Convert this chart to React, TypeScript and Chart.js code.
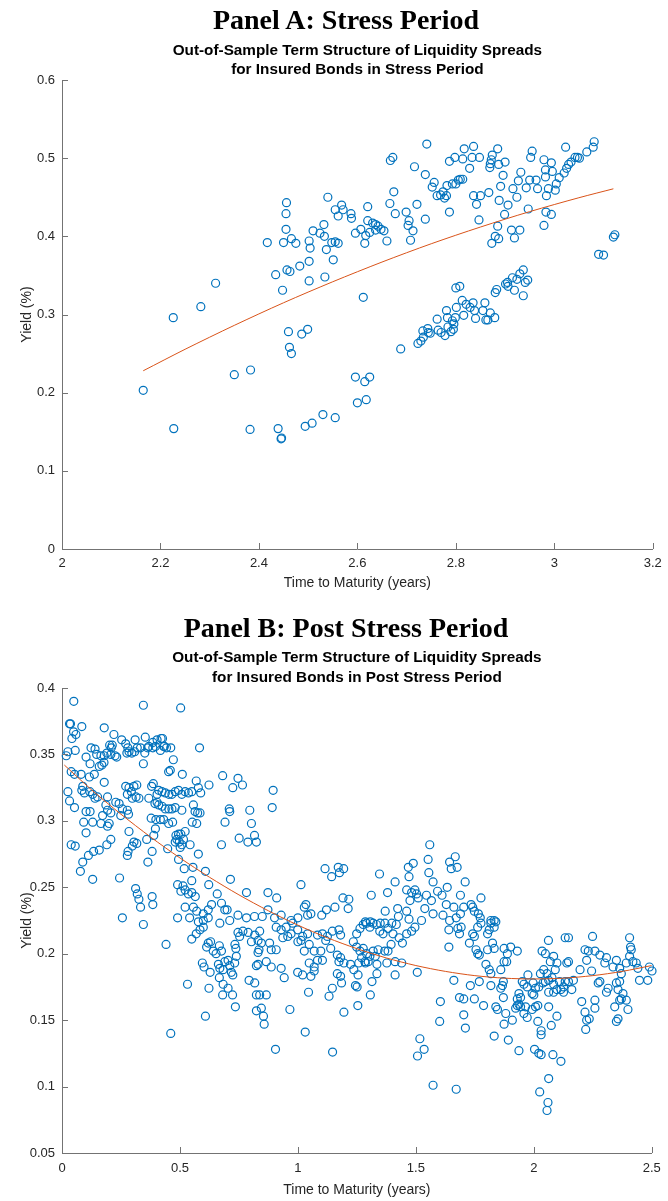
import { useEffect, useRef } from 'react';
import { Chart, registerables } from 'chart.js';

Chart.register(...registerables);

const SANS = '"Liberation Sans", Arial, Helvetica, sans-serif';
const SERIF = '"Liberation Serif", "Times New Roman", Times, serif';
const MARKER_BLUE = '#0072BD';
const FIT_ORANGE = '#D95319';
const AXIS_GRAY = '#737373';
const TEXT_DARK = '#262626';

// ---------- Panel A: stress period ----------
const stressXTicks = [2, 2.2, 2.4, 2.6, 2.8, 3, 3.2];
const stressXTickLabels = ['2', '2.2', '2.4', '2.6', '2.8', '3', '3.2'];
const stressYTicks = [0, 0.1, 0.2, 0.3, 0.4, 0.5, 0.6];
const stressYTickLabels = ['0', '0.1', '0.2', '0.3', '0.4', '0.5', '0.6'];

// [time to maturity (years), yield (%)]
const stressPoints: [number, number][] = [
  [2.165, 0.203], [2.226, 0.296], [2.227, 0.154], [2.282, 0.31], [2.312, 0.34],
  [2.35, 0.223], [2.383, 0.229], [2.382, 0.153], [2.417, 0.392], [2.434, 0.351],
  [2.439, 0.154], [2.445, 0.141], [2.446, 0.142], [2.448, 0.331], [2.45, 0.392],
  [2.455, 0.409], [2.455, 0.429], [2.456, 0.443], [2.457, 0.357], [2.463, 0.355],
  [2.46, 0.278], [2.462, 0.258], [2.466, 0.25], [2.466, 0.397], [2.475, 0.391],
  [2.483, 0.362], [2.487, 0.275], [2.499, 0.281], [2.494, 0.157], [2.508, 0.161],
  [2.502, 0.394], [2.504, 0.385], [2.502, 0.368], [2.502, 0.343], [2.51, 0.407],
  [2.524, 0.404], [2.532, 0.415], [2.533, 0.4], [2.537, 0.383], [2.534, 0.348],
  [2.53, 0.172], [2.54, 0.45], [2.548, 0.392], [2.555, 0.393], [2.561, 0.391],
  [2.551, 0.37], [2.555, 0.168], [2.555, 0.434], [2.561, 0.426], [2.568, 0.44],
  [2.571, 0.434], [2.587, 0.429], [2.588, 0.423], [2.596, 0.404], [2.596, 0.22],
  [2.6, 0.187], [2.607, 0.409], [2.615, 0.391], [2.617, 0.401], [2.621, 0.438],
  [2.621, 0.42], [2.625, 0.405], [2.631, 0.417], [2.637, 0.415], [2.642, 0.413],
  [2.637, 0.408], [2.648, 0.409], [2.654, 0.407], [2.66, 0.394], [2.667, 0.497],
  [2.672, 0.501], [2.674, 0.457], [2.666, 0.442], [2.677, 0.429], [2.699, 0.431],
  [2.703, 0.414], [2.705, 0.42], [2.713, 0.407], [2.708, 0.395], [2.716, 0.489],
  [2.721, 0.441], [2.738, 0.479], [2.738, 0.422], [2.741, 0.518], [2.752, 0.463],
  [2.756, 0.469], [2.762, 0.452], [2.769, 0.453], [2.774, 0.457], [2.777, 0.449],
  [2.781, 0.452], [2.782, 0.465], [2.787, 0.431], [2.787, 0.496], [2.793, 0.467],
  [2.798, 0.501], [2.8, 0.467], [2.805, 0.472], [2.809, 0.473], [2.814, 0.473],
  [2.814, 0.499], [2.817, 0.512], [2.828, 0.487], [2.833, 0.501], [2.836, 0.515],
  [2.836, 0.452], [2.842, 0.441], [2.848, 0.501], [2.85, 0.452], [2.847, 0.421],
  [2.867, 0.456], [2.869, 0.488], [2.87, 0.493], [2.872, 0.498], [2.874, 0.504],
  [2.885, 0.512], [2.887, 0.492], [2.9, 0.495], [2.896, 0.478], [2.891, 0.464],
  [2.888, 0.446], [2.906, 0.44], [2.899, 0.428], [2.885, 0.413], [2.88, 0.4],
  [2.873, 0.391], [2.887, 0.397], [2.916, 0.461], [2.924, 0.45], [2.927, 0.471],
  [2.932, 0.482], [2.913, 0.408], [2.919, 0.398], [2.93, 0.408], [2.943, 0.462],
  [2.95, 0.472], [2.947, 0.435], [2.952, 0.501], [2.955, 0.509], [2.963, 0.472],
  [2.966, 0.461], [2.979, 0.498], [2.982, 0.485], [2.982, 0.476], [2.984, 0.452],
  [2.988, 0.461], [2.983, 0.431], [2.994, 0.428], [2.979, 0.414], [2.994, 0.494],
  [2.996, 0.483], [3.002, 0.459], [3.004, 0.467], [3.01, 0.475], [3.02, 0.481],
  [3.025, 0.487], [3.029, 0.492], [3.034, 0.495], [3.042, 0.501], [3.047, 0.501],
  [3.051, 0.5], [3.023, 0.514], [3.066, 0.508], [3.079, 0.514], [3.081, 0.521],
  [3.12, 0.399], [3.123, 0.402], [3.09, 0.377], [3.1, 0.376], [2.612, 0.322],
  [2.615, 0.214], [2.625, 0.22], [2.618, 0.191], [2.688, 0.256], [2.723, 0.263],
  [2.729, 0.266], [2.734, 0.271], [2.733, 0.279], [2.743, 0.282], [2.748, 0.276],
  [2.744, 0.277], [2.762, 0.294], [2.764, 0.28], [2.77, 0.277], [2.778, 0.273],
  [2.781, 0.305], [2.783, 0.296], [2.784, 0.284], [2.79, 0.278], [2.793, 0.292],
  [2.796, 0.288], [2.795, 0.281], [2.799, 0.296], [2.801, 0.309], [2.8, 0.334],
  [2.808, 0.336], [2.813, 0.318], [2.816, 0.299], [2.821, 0.313], [2.829, 0.309],
  [2.835, 0.315], [2.838, 0.305], [2.84, 0.295], [2.855, 0.305], [2.859, 0.315],
  [2.861, 0.293], [2.865, 0.293], [2.87, 0.302], [2.879, 0.296], [2.88, 0.328],
  [2.883, 0.332], [2.901, 0.339], [2.906, 0.336], [2.905, 0.341], [2.915, 0.347],
  [2.919, 0.331], [2.924, 0.345], [2.93, 0.352], [2.937, 0.357], [2.941, 0.341],
  [2.946, 0.344], [2.937, 0.324],
];

// fitted term structure, stress period
const stressFit: [number, number][] = [
  [2.165, 0.228], [2.25, 0.2555], [2.35, 0.2861], [2.45, 0.315], [2.55, 0.3419],
  [2.65, 0.3671], [2.75, 0.3905], [2.85, 0.4119], [2.95, 0.4316], [3.05, 0.4494],
  [3.12, 0.4608],
];

// ---------- Panel B: post stress period ----------
const postXTicks = [0, 0.5, 1, 1.5, 2, 2.5];
const postXTickLabels = ['0', '0.5', '1', '1.5', '2', '2.5'];
const postYTicks = [0.05, 0.1, 0.15, 0.2, 0.25, 0.3, 0.35, 0.4];
const postYTickLabels = ['0.05', '0.1', '0.15', '0.2', '0.25', '0.3', '0.35', '0.4'];

// [time to maturity (years), yield (%)]
const postPoints: [number, number][] = [
  [0.05, 0.39], [0.345, 0.387], [0.503, 0.385], [0.032, 0.373], [0.036, 0.373],
  [0.084, 0.371], [0.049, 0.367], [0.059, 0.365], [0.179, 0.37], [0.042, 0.362],
  [0.22, 0.365], [0.253, 0.361], [0.31, 0.361], [0.353, 0.363], [0.385, 0.359],
  [0.403, 0.361], [0.42, 0.362], [0.426, 0.362], [0.27, 0.358], [0.279, 0.355],
  [0.202, 0.357], [0.213, 0.357], [0.209, 0.355], [0.319, 0.355], [0.333, 0.355],
  [0.368, 0.356], [0.385, 0.355], [0.396, 0.356], [0.434, 0.356], [0.461, 0.355],
  [0.583, 0.355], [0.025, 0.352], [0.018, 0.349], [0.056, 0.353], [0.123, 0.355],
  [0.14, 0.354], [0.102, 0.348], [0.147, 0.35], [0.165, 0.349], [0.179, 0.349],
  [0.19, 0.351], [0.207, 0.35], [0.225, 0.349], [0.232, 0.348], [0.275, 0.351],
  [0.284, 0.352], [0.296, 0.351], [0.308, 0.352], [0.351, 0.351], [0.363, 0.355],
  [0.417, 0.353], [0.431, 0.356], [0.443, 0.355], [0.472, 0.346], [0.119, 0.343],
  [0.169, 0.342], [0.178, 0.344], [0.158, 0.341], [0.345, 0.343], [0.039, 0.337],
  [0.053, 0.335], [0.081, 0.335], [0.116, 0.333], [0.137, 0.335], [0.452, 0.337],
  [0.459, 0.338], [0.51, 0.335], [0.681, 0.334], [0.746, 0.332], [0.765, 0.327],
  [0.724, 0.325], [0.179, 0.329], [0.025, 0.322], [0.088, 0.326], [0.084, 0.323],
  [0.095, 0.321], [0.118, 0.322], [0.13, 0.32], [0.14, 0.317], [0.151, 0.318],
  [0.193, 0.318], [0.27, 0.326], [0.284, 0.325], [0.294, 0.322], [0.305, 0.326],
  [0.317, 0.327], [0.277, 0.32], [0.298, 0.317], [0.314, 0.318], [0.326, 0.317],
  [0.368, 0.317], [0.38, 0.326], [0.387, 0.328], [0.41, 0.323], [0.424, 0.322],
  [0.438, 0.321], [0.453, 0.32], [0.466, 0.32], [0.48, 0.322], [0.494, 0.323],
  [0.508, 0.32], [0.522, 0.322], [0.536, 0.321], [0.55, 0.322], [0.403, 0.32],
  [0.569, 0.33], [0.578, 0.325], [0.588, 0.321], [0.623, 0.327], [0.032, 0.315],
  [0.053, 0.31], [0.102, 0.307], [0.119, 0.307], [0.193, 0.308], [0.207, 0.306],
  [0.186, 0.312], [0.228, 0.314], [0.242, 0.313], [0.256, 0.309], [0.277, 0.308],
  [0.249, 0.304], [0.172, 0.304], [0.282, 0.305], [0.394, 0.313], [0.403, 0.314],
  [0.41, 0.312], [0.424, 0.311], [0.438, 0.309], [0.453, 0.309], [0.466, 0.309],
  [0.48, 0.31], [0.378, 0.302], [0.398, 0.301], [0.417, 0.301], [0.431, 0.301],
  [0.452, 0.298], [0.469, 0.299], [0.508, 0.308], [0.557, 0.312], [0.564, 0.307],
  [0.575, 0.306], [0.585, 0.306], [0.552, 0.299], [0.571, 0.298], [0.092, 0.299],
  [0.13, 0.299], [0.165, 0.298], [0.193, 0.296], [0.2, 0.298], [0.102, 0.291],
  [0.284, 0.292], [0.396, 0.294], [0.483, 0.289], [0.494, 0.29], [0.504, 0.29],
  [0.522, 0.292], [0.487, 0.286], [0.497, 0.284], [0.508, 0.282], [0.501, 0.28],
  [0.515, 0.286], [0.48, 0.284], [0.543, 0.282], [0.578, 0.275], [0.359, 0.286],
  [0.389, 0.289], [0.448, 0.279], [0.039, 0.282], [0.056, 0.281], [0.207, 0.286],
  [0.19, 0.282], [0.305, 0.284], [0.317, 0.283], [0.298, 0.281], [0.28, 0.277],
  [0.277, 0.274], [0.158, 0.278], [0.134, 0.277], [0.112, 0.274], [0.088, 0.269],
  [0.078, 0.262], [0.13, 0.256], [0.244, 0.257], [0.364, 0.269], [0.382, 0.277],
  [0.494, 0.271], [0.518, 0.264], [0.555, 0.265], [0.608, 0.262], [0.676, 0.282],
  [0.691, 0.299], [0.709, 0.309], [0.711, 0.307], [0.796, 0.308], [0.803, 0.298],
  [0.751, 0.287], [0.788, 0.284], [0.816, 0.289], [0.824, 0.284], [0.714, 0.256],
  [0.622, 0.252], [0.782, 0.246], [0.49, 0.252], [0.504, 0.247], [0.513, 0.251],
  [0.522, 0.248], [0.536, 0.245], [0.55, 0.246], [0.565, 0.243], [0.55, 0.255],
  [0.658, 0.245], [0.522, 0.235], [0.557, 0.235], [0.571, 0.232], [0.599, 0.23],
  [0.62, 0.233], [0.634, 0.237], [0.676, 0.238], [0.69, 0.233], [0.7, 0.233],
  [0.746, 0.229], [0.782, 0.227], [0.816, 0.228], [0.312, 0.249], [0.319, 0.245],
  [0.326, 0.241], [0.333, 0.235], [0.382, 0.243], [0.385, 0.237], [0.256, 0.227],
  [0.345, 0.222], [0.49, 0.227], [0.541, 0.227], [0.578, 0.224], [0.599, 0.225],
  [0.62, 0.227], [0.669, 0.223], [0.711, 0.225],
  [0.895, 0.323], [0.891, 0.31], [1.115, 0.264], [1.143, 0.258], [1.171, 0.265],
  [1.176, 0.261], [1.194, 0.264], [1.013, 0.252], [0.873, 0.246], [0.91, 0.242],
  [1.346, 0.26], [1.412, 0.254], [1.38, 0.246], [1.311, 0.244], [1.191, 0.242],
  [1.216, 0.241], [1.468, 0.265], [1.489, 0.268], [1.471, 0.258], [1.461, 0.248],
  [1.496, 0.248], [1.482, 0.246], [1.503, 0.245], [1.475, 0.24], [1.51, 0.242],
  [1.559, 0.282], [1.552, 0.271], [1.555, 0.261], [1.573, 0.254], [1.643, 0.269],
  [1.65, 0.264], [1.592, 0.247], [1.611, 0.244], [1.633, 0.25], [1.545, 0.244],
  [1.566, 0.24], [1.538, 0.234], [1.629, 0.237], [1.661, 0.235], [1.034, 0.237],
  [1.027, 0.235], [1.055, 0.23], [1.041, 0.229], [1.0, 0.227], [0.971, 0.225],
  [0.929, 0.229], [0.901, 0.227], [0.873, 0.233], [0.849, 0.228], [1.101, 0.229],
  [1.121, 0.233], [1.157, 0.235], [1.213, 0.234], [1.423, 0.234], [1.461, 0.232],
  [1.426, 0.228], [1.471, 0.226], [1.524, 0.225], [1.573, 0.23], [1.615, 0.229],
  [1.643, 0.225], [1.37, 0.232], [1.286, 0.224], [1.307, 0.224], [1.349, 0.223],
  [1.398, 0.223],
  [1.667, 0.273], [1.675, 0.265], [1.709, 0.254], [1.689, 0.244], [1.776, 0.242],
  [1.703, 0.235], [1.734, 0.237], [1.741, 0.235], [1.748, 0.232], [1.765, 0.23],
  [1.773, 0.227], [1.689, 0.23], [1.671, 0.227], [1.818, 0.225], [1.832, 0.225],
  [0.441, 0.207], [0.55, 0.211], [0.569, 0.215], [0.585, 0.218], [0.599, 0.22],
  [0.62, 0.208], [0.613, 0.205], [0.63, 0.209], [0.641, 0.202], [0.653, 0.2],
  [0.667, 0.206], [0.676, 0.202], [0.69, 0.194], [0.704, 0.195], [0.669, 0.189],
  [0.683, 0.188], [0.663, 0.192], [0.595, 0.193], [0.602, 0.19], [0.628, 0.186],
  [0.718, 0.186], [0.724, 0.184], [0.711, 0.191], [0.732, 0.193], [0.739, 0.198],
  [0.737, 0.204], [0.667, 0.182], [0.683, 0.177], [0.704, 0.174], [0.681, 0.169],
  [0.723, 0.169], [0.532, 0.177], [0.623, 0.174], [0.735, 0.16], [0.608, 0.153],
  [0.461, 0.14], [0.793, 0.18], [0.817, 0.178], [0.824, 0.191], [0.824, 0.169],
  [0.824, 0.157], [0.831, 0.201], [0.803, 0.209], [0.817, 0.214], [0.789, 0.216],
  [0.746, 0.216], [0.767, 0.217], [0.753, 0.213], [0.733, 0.207],
  [0.838, 0.217], [0.831, 0.21], [0.845, 0.208], [0.835, 0.203], [0.88, 0.208],
  [0.887, 0.203], [0.866, 0.194], [0.887, 0.19], [0.831, 0.192], [0.908, 0.203],
  [0.929, 0.189], [0.942, 0.182], [0.966, 0.158], [0.905, 0.128], [1.031, 0.141],
  [0.838, 0.169], [0.866, 0.169], [0.845, 0.159], [0.854, 0.153], [0.857, 0.147],
  [0.908, 0.22], [0.929, 0.218], [0.95, 0.22], [0.971, 0.215], [0.957, 0.213],
  [0.978, 0.223], [0.999, 0.218], [1.02, 0.213], [1.041, 0.215], [1.0, 0.209],
  [1.013, 0.21], [0.936, 0.212], [1.027, 0.202], [1.048, 0.207], [1.069, 0.202],
  [1.097, 0.202], [1.083, 0.195], [1.104, 0.195], [1.048, 0.193], [0.999, 0.186],
  [1.02, 0.184], [1.055, 0.183], [1.069, 0.187], [1.069, 0.19], [1.045, 0.171],
  [1.083, 0.214], [1.104, 0.215], [1.125, 0.213], [1.146, 0.217], [1.174, 0.218],
  [1.181, 0.214], [1.118, 0.21], [1.139, 0.204], [1.167, 0.199], [1.181, 0.197],
  [1.174, 0.194], [1.195, 0.193], [1.167, 0.185], [1.181, 0.183], [1.185, 0.178],
  [1.146, 0.174], [1.132, 0.168], [1.195, 0.156], [1.147, 0.126], [1.235, 0.209],
  [1.249, 0.215], [1.263, 0.219], [1.277, 0.222], [1.291, 0.223], [1.305, 0.22],
  [1.319, 0.223], [1.333, 0.222], [1.347, 0.217], [1.361, 0.215], [1.382, 0.219],
  [1.403, 0.215], [1.417, 0.222], [1.369, 0.223], [1.249, 0.205], [1.263, 0.202],
  [1.277, 0.204], [1.291, 0.2], [1.305, 0.198], [1.27, 0.197], [1.284, 0.194],
  [1.298, 0.194], [1.319, 0.202], [1.34, 0.203], [1.368, 0.202], [1.382, 0.202],
  [1.223, 0.192], [1.237, 0.188], [1.258, 0.193], [1.286, 0.193], [1.328, 0.198],
  [1.335, 0.192], [1.255, 0.184], [1.244, 0.176], [1.251, 0.175], [1.314, 0.179],
  [1.335, 0.185], [1.307, 0.169], [1.254, 0.161], [1.377, 0.193], [1.412, 0.194],
  [1.44, 0.193], [1.412, 0.184], [1.395, 0.207], [1.429, 0.212], [1.443, 0.208],
  [1.461, 0.215], [1.482, 0.217], [1.496, 0.22], [1.506, 0.186], [1.517, 0.136],
  [1.535, 0.128], [1.507, 0.123], [1.573, 0.101], [1.604, 0.164], [1.601, 0.149],
  [1.64, 0.205], [1.64, 0.218], [1.661, 0.18], [1.671, 0.098],
  [1.692, 0.22], [1.685, 0.215], [1.678, 0.219], [1.741, 0.215], [1.748, 0.213],
  [1.762, 0.22], [1.776, 0.223], [1.804, 0.215], [1.818, 0.223], [1.832, 0.22],
  [1.839, 0.224], [1.811, 0.218], [1.727, 0.208], [1.755, 0.203], [1.769, 0.199],
  [1.762, 0.2], [1.804, 0.203], [1.832, 0.204], [1.825, 0.208], [1.874, 0.204],
  [1.888, 0.2], [1.902, 0.205], [1.93, 0.202], [1.874, 0.194], [1.885, 0.194],
  [1.797, 0.192], [1.811, 0.188], [1.818, 0.185], [1.86, 0.188], [1.818, 0.176],
  [1.867, 0.176], [1.86, 0.174], [1.871, 0.179], [1.731, 0.176], [1.769, 0.179],
  [1.703, 0.166], [1.685, 0.167], [1.748, 0.166], [1.787, 0.161], [1.703, 0.154],
  [1.71, 0.144], [1.871, 0.167], [1.937, 0.17], [1.93, 0.166], [1.944, 0.167],
  [1.937, 0.162], [1.93, 0.161], [1.923, 0.159], [1.944, 0.16], [1.965, 0.16],
  [1.958, 0.155], [1.972, 0.152], [1.993, 0.158], [2.007, 0.16], [2.017, 0.161],
  [1.881, 0.155], [1.839, 0.16], [1.846, 0.158], [1.909, 0.15], [1.874, 0.147],
  [1.832, 0.138], [1.892, 0.135], [1.937, 0.127], [2.063, 0.16], [2.098, 0.153],
  [2.074, 0.146], [2.017, 0.149], [2.031, 0.142], [2.031, 0.139], [2.003, 0.128],
  [2.021, 0.125], [2.031, 0.124], [2.081, 0.124], [2.115, 0.119], [2.063, 0.106],
  [2.025, 0.096], [2.06, 0.088], [2.056, 0.082],
  [1.951, 0.179], [1.958, 0.177], [1.975, 0.184], [1.972, 0.175], [1.997, 0.178],
  [2.007, 0.174], [2.0, 0.169], [1.993, 0.17], [2.021, 0.175], [2.039, 0.178],
  [2.028, 0.185], [2.042, 0.188], [2.056, 0.185], [2.049, 0.179], [2.063, 0.18],
  [2.077, 0.182], [2.091, 0.188], [2.084, 0.177], [2.063, 0.171], [2.084, 0.171],
  [2.098, 0.173], [2.109, 0.179], [2.115, 0.173], [2.126, 0.175], [2.133, 0.179],
  [2.14, 0.193], [2.147, 0.194], [2.098, 0.193], [2.07, 0.194], [2.084, 0.198],
  [2.035, 0.202], [2.049, 0.2], [2.062, 0.21], [2.133, 0.212], [2.147, 0.212],
  [2.126, 0.171], [2.147, 0.179], [2.168, 0.18], [2.161, 0.173], [2.196, 0.188],
  [2.203, 0.164], [2.217, 0.156], [2.224, 0.15], [2.235, 0.151], [2.22, 0.143],
  [2.245, 0.187], [2.259, 0.165], [2.259, 0.159], [2.224, 0.195], [2.231, 0.202],
  [2.217, 0.203], [2.249, 0.213], [2.259, 0.202], [2.28, 0.199], [2.308, 0.197],
  [2.301, 0.193], [2.273, 0.178], [2.28, 0.179], [2.315, 0.174], [2.308, 0.171],
  [2.336, 0.19], [2.35, 0.195], [2.364, 0.189], [2.371, 0.185], [2.364, 0.179],
  [2.35, 0.178], [2.357, 0.173], [2.378, 0.17], [2.371, 0.166], [2.364, 0.165],
  [2.392, 0.165], [2.399, 0.158], [2.343, 0.16], [2.357, 0.151], [2.35, 0.149],
  [2.406, 0.212], [2.41, 0.205], [2.406, 0.198], [2.42, 0.194], [2.434, 0.193],
  [2.441, 0.189], [2.392, 0.193], [2.413, 0.203], [2.448, 0.18], [2.483, 0.18],
  [2.49, 0.19], [2.501, 0.187],
];

// fitted term structure, post stress period
const postFit: [number, number][] = [
  [0.01, 0.342], [0.125, 0.3234], [0.25, 0.305], [0.375, 0.2879], [0.5, 0.2721],
  [0.625, 0.2576], [0.75, 0.2443], [0.875, 0.2323], [1.0, 0.2215], [1.125, 0.212],
  [1.25, 0.2038], [1.375, 0.1968], [1.5, 0.1911], [1.625, 0.1867], [1.75, 0.1835],
  [1.875, 0.1816], [2.0, 0.181], [2.125, 0.1816], [2.25, 0.1835], [2.375, 0.1867],
  [2.5, 0.1911],
];

// Short tick marks pointing into the plot area, drawn from the scales' ticks.
const inwardTicks = {
  id: 'inwardTicks',
  afterDraw(chart: any) {
    const { ctx, chartArea, scales } = chart;
    const len = 6;
    ctx.save();
    ctx.strokeStyle = AXIS_GRAY;
    ctx.lineWidth = 1;
    ctx.beginPath();
    for (const t of scales.x.ticks) {
      const px = Math.round(scales.x.getPixelForValue(t.value)) + 0.5;
      ctx.moveTo(px, chartArea.bottom);
      ctx.lineTo(px, chartArea.bottom - len);
    }
    for (const t of scales.y.ticks) {
      const py = Math.round(scales.y.getPixelForValue(t.value)) + 0.5;
      ctx.moveTo(chartArea.left, py);
      ctx.lineTo(chartArea.left + len, py);
    }
    ctx.stroke();
    ctx.restore();
  },
};

interface PanelSpec {
  titleLines: string[];
  points: [number, number][];
  fit: [number, number][];
  xMin: number;
  xMax: number;
  yMin: number;
  yMax: number;
  xTicks: number[];
  xTickLabels: string[];
  yTicks: number[];
  yTickLabels: string[];
  padTop: number;
  titleBottom: number;
  xAxisHeight: number;
  xTickPadding: number;
  xTitleBottom: number;
}

function buildConfig(spec: PanelSpec): any {
  const tickFont = { family: SANS, size: 13 };
  const axisTitleFont = { family: SANS, size: 14 };
  return {
    type: 'scatter',
    data: {
      datasets: [
        {
          type: 'line',
          data: spec.fit.map(([x, y]) => ({ x, y })),
          borderColor: FIT_ORANGE,
          borderWidth: 1,
          pointRadius: 0,
          fill: false,
          tension: 0.3,
          order: 0,
        },
        {
          type: 'scatter',
          data: spec.points.map(([x, y]) => ({ x, y })),
          borderColor: MARKER_BLUE,
          backgroundColor: 'rgba(0,0,0,0)',
          borderWidth: 1.2,
          pointRadius: 4,
          pointHoverRadius: 4,
          clip: false,
          order: 1,
        },
      ],
    },
    options: {
      responsive: false,
      animation: false,
      events: [],
      layout: { padding: { top: spec.padTop, left: 0, right: 11, bottom: 0 } },
      plugins: {
        legend: { display: false },
        tooltip: { enabled: false },
        title: {
          display: true,
          fullSize: false,
          text: spec.titleLines,
          color: '#000000',
          font: { family: SANS, size: 15.3, weight: 'bold', lineHeight: 19.5 / 15.3 },
          padding: { top: 0, bottom: spec.titleBottom },
        },
      },
      scales: {
        x: {
          type: 'linear',
          min: spec.xMin,
          max: spec.xMax,
          afterBuildTicks: (s: any) => {
            s.ticks = spec.xTicks.map((value) => ({ value }));
          },
          afterFit: (s: any) => {
            s.height = spec.xAxisHeight;
          },
          grid: { display: false, drawTicks: false },
          border: { display: true, color: AXIS_GRAY, width: 1 },
          ticks: {
            autoSkip: false,
            maxRotation: 0,
            padding: spec.xTickPadding,
            color: TEXT_DARK,
            font: tickFont,
            callback: (_v: any, i: number) => spec.xTickLabels[i],
          },
          title: {
            display: true,
            text: 'Time to Maturity (years)',
            color: TEXT_DARK,
            font: axisTitleFont,
            padding: { top: 0, bottom: spec.xTitleBottom },
          },
        },
        y: {
          type: 'linear',
          min: spec.yMin,
          max: spec.yMax,
          afterBuildTicks: (s: any) => {
            s.ticks = spec.yTicks.map((value) => ({ value }));
          },
          afterFit: (s: any) => {
            s.width = 62;
          },
          grid: { display: false, drawTicks: false },
          border: { display: true, color: AXIS_GRAY, width: 1 },
          ticks: {
            autoSkip: false,
            padding: 7,
            color: TEXT_DARK,
            font: tickFont,
            callback: (_v: any, i: number) => spec.yTickLabels[i],
          },
          title: {
            display: true,
            text: 'Yield (%)',
            color: TEXT_DARK,
            font: axisTitleFont,
            padding: { top: 18.6, bottom: 0 },
          },
        },
      },
    },
    plugins: [inwardTicks],
  };
}

const stressSpec: PanelSpec = {
  titleLines: [
    'Out-of-Sample Term Structure of Liquidity Spreads',
    'for Insured Bonds in Stress Period',
  ],
  points: stressPoints,
  fit: stressFit,
  xMin: 2,
  xMax: 3.2,
  yMin: 0,
  yMax: 0.6,
  xTicks: stressXTicks,
  xTickLabels: stressXTickLabels,
  yTicks: stressYTicks,
  yTickLabels: stressYTickLabels,
  padTop: 40.75,
  titleBottom: 0.25,
  xAxisHeight: 51,
  xTickPadding: 6.2,
  xTitleBottom: 8.6,
};

const postSpec: PanelSpec = {
  titleLines: [
    'Out-of-Sample Term Structure of Liquidity Spreads',
    'for Insured Bonds in Post Stress Period',
  ],
  points: postPoints,
  fit: postFit,
  xMin: 0,
  xMax: 2.5,
  yMin: 0.05,
  yMax: 0.4,
  xTicks: postXTicks,
  xTickLabels: postXTickLabels,
  yTicks: postYTicks,
  yTickLabels: postYTickLabels,
  padTop: 48.25,
  titleBottom: 0.75,
  xAxisHeight: 48,
  xTickPadding: 7.2,
  xTitleBottom: 2.6,
};

function PanelChart({ spec, top, height }: { spec: PanelSpec; top: number; height: number }) {
  const ref = useRef<HTMLCanvasElement>(null);
  useEffect(() => {
    if (!ref.current) return;
    const chart = new Chart(ref.current, buildConfig(spec));
    return () => chart.destroy();
  }, [spec]);
  return (
    <canvas
      ref={ref}
      width={668}
      height={height}
      style={{ position: 'absolute', left: 0, top, width: 668, height, display: 'block' }}
    />
  );
}

function PanelHeading({ text, top }: { text: string; top: number }) {
  return (
    <div
      style={{
        position: 'absolute',
        left: 12,
        top,
        width: 668,
        textAlign: 'center',
        fontFamily: SERIF,
        fontWeight: 'bold',
        fontSize: 28,
        lineHeight: '28px',
        color: '#000',
        whiteSpace: 'nowrap',
      }}
    >
      {text}
    </div>
  );
}

export default function App() {
  return (
    <div
      style={{
        position: 'absolute',
        left: 0,
        top: 0,
        width: 668,
        height: 1201,
        background: '#ffffff',
        overflow: 'hidden',
      }}
    >
      <PanelChart spec={stressSpec} top={0} height={600} />
      <PanelChart spec={postSpec} top={600} height={601} />
      <PanelHeading text="Panel A: Stress Period" top={6} />
      <PanelHeading text="Panel B: Post Stress Period" top={614} />
    </div>
  );
}
